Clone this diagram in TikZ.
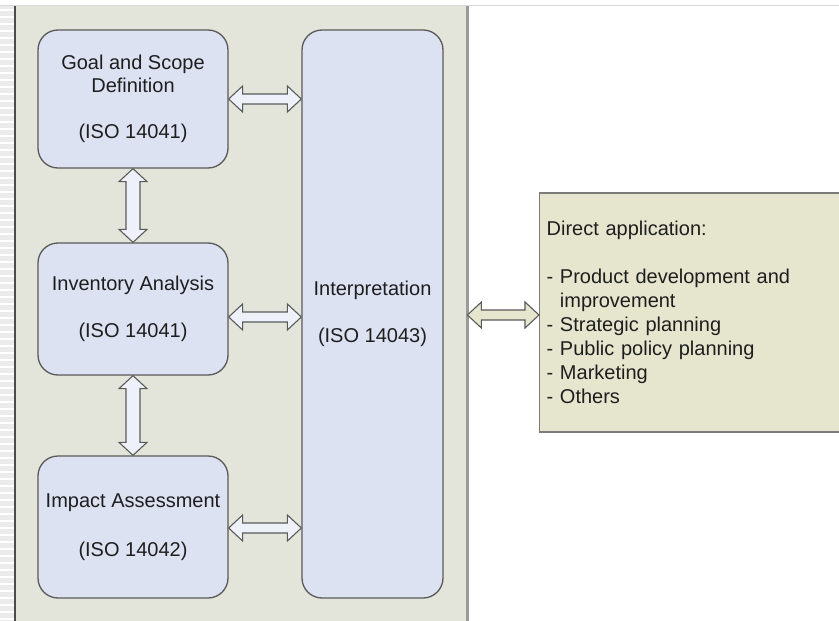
\documentclass[tikz,border=0pt]{standalone}
\usepackage{fontspec}
\setmainfont{Liberation Sans}
\usetikzlibrary{calc}
\definecolor{panelfill}{HTML}{E3E4DA}
\definecolor{stripfill}{HTML}{EBEBEB}
\definecolor{boxfill}{HTML}{DDE2F3}
\definecolor{boxline}{HTML}{5A5A5A}
\definecolor{arrowfill}{HTML}{EEF1FA}
\definecolor{appfill}{HTML}{E6E6CF}
\definecolor{txt}{HTML}{1E1E1E}
\newcommand\hblockarrow[3]{%
  \draw[#1] let \p1=(#2), \p2=(#3) in
    (\x1,\y1) -- (\x1+14pt,\y1+13pt) -- (\x1+14pt,\y1+5pt) -- (\x2-14pt,\y1+5pt)
    -- (\x2-14pt,\y1+13pt) -- (\x2,\y1) -- (\x2-14pt,\y1-13pt) -- (\x2-14pt,\y1-5pt)
    -- (\x1+14pt,\y1-5pt) -- (\x1+14pt,\y1-13pt) -- cycle;}
\newcommand\vblockarrow[3]{%
  \draw[#1] let \p1=(#2), \p2=(#3) in
    (\x1,\y1) -- (\x1+14pt,\y1-13pt) -- (\x1+7pt,\y1-13pt) -- (\x1+7pt,\y2+13pt)
    -- (\x1+14pt,\y2+13pt) -- (\x1,\y2) -- (\x1-14pt,\y2+13pt) -- (\x1-7pt,\y2+13pt)
    -- (\x1-7pt,\y1-13pt) -- (\x1-14pt,\y1-13pt) -- cycle;}
\begin{document}
\begin{tikzpicture}[x=1pt,y=-1pt,
  stage/.style={draw=boxline, line width=1.3pt, fill=boxfill, rounded corners=20pt,
    align=center, text=txt, font=\fontsize{20}{23}\selectfont, inner sep=0pt},
  appbox/.style={draw=boxline!80, line width=1.3pt, fill=appfill, align=left,
    text=txt, font=\fontsize{20}{24}\selectfont, inner sep=0pt, text width=308pt,
    inner xsep=7pt},
  barrow/.style={draw=boxline, line width=1.1pt, fill=arrowfill, line join=miter},
  aarrow/.style={draw=boxline, line width=1.1pt, fill=appfill, line join=miter},
  panel/.style={fill=panelfill, draw=none, inner sep=0pt}]
\useasboundingbox (0,0) rectangle (839,621);
\clip (0,0) rectangle (839,621);
% background strips
\fill[white] (0,0) rectangle (839,621);
\fill[stripfill] (0,6) rectangle (14,621);
\foreach \yy in {10,17,...,621} \draw[white, line width=2pt] (0,\yy) -- (14,\yy);
\draw[black!15, line width=1pt] (0,5) -- (839,5);
% panel
\node[panel, minimum width=452pt, minimum height=616pt, anchor=north west] (panel) at (15,6) {};
\draw[black!70, line width=2pt] (panel.north west) -- (panel.south west);
\draw[black!40, line width=3pt] (panel.north east) -- (panel.south east);
% stages
\node[stage, minimum width=190pt, minimum height=138pt] (goal) at (133,99)
  {Goal and Scope\\Definition\\[23pt](ISO 14041)};
\node[stage, minimum width=190pt, minimum height=132pt] (inv) at (133,309)
  {Inventory Analysis\\[24pt](ISO 14041)};
\node[stage, minimum width=190pt, minimum height=142pt] (imp) at (133,527)
  {Impact Assessment\\[26pt](ISO 14042)};
\node[stage, minimum width=141pt, minimum height=568pt] (interp) at (372.5,314)
  {Interpretation\\[24pt](ISO 14043)};
\node[appbox, minimum height=239pt, anchor=west] (app) at (539,312.5)
  {Direct application:\\[24pt]
   - Product development and\\
   \hphantom{- }improvement\\
   - Strategic planning\\
   - Public policy planning\\
   - Marketing\\
   - Others};
% connectors
\hblockarrow{barrow}{goal.east |- 0,99}{interp.west |- 0,99}
\hblockarrow{barrow}{inv.east |- 0,317}{interp.west |- 0,317}
\hblockarrow{barrow}{imp.east |- 0,528}{interp.west |- 0,528}
\hblockarrow{aarrow}{panel.east |- 0,315}{app.west |- 0,315}
\vblockarrow{barrow}{goal.south}{inv.north}
\vblockarrow{barrow}{inv.south}{imp.north}
\end{tikzpicture}
\end{document}
